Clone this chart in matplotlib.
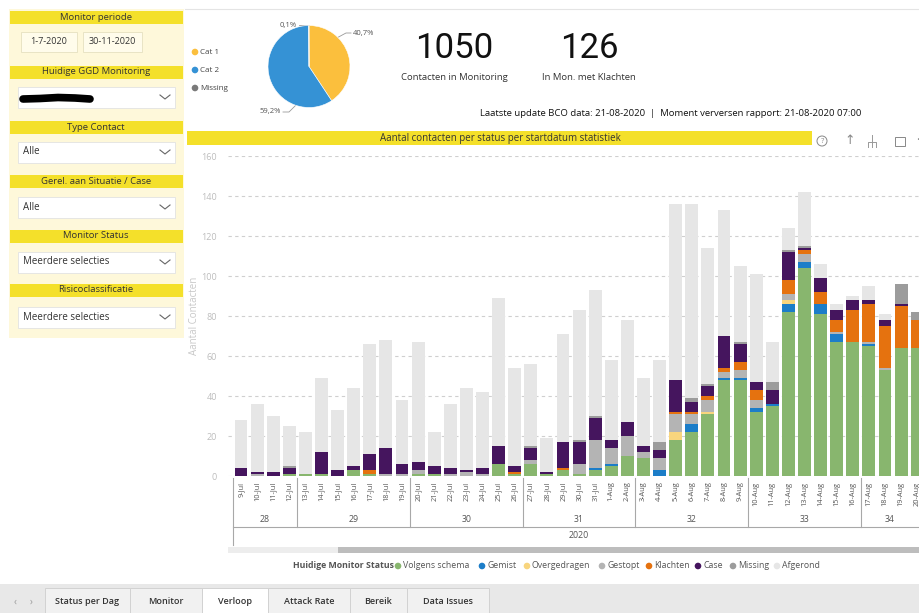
import matplotlib
matplotlib.use("Agg")
import matplotlib.pyplot as plt
from matplotlib.patches import Rectangle, Circle
from matplotlib.transforms import blended_transform_factory

plt.rcParams["font.family"] = ["Open Sans", "DejaVu Sans"]

# --- data ---
dates = ["9-Jul", "10-Jul", "11-Jul", "12-Jul", "13-Jul", "14-Jul", "15-Jul", "16-Jul",
         "17-Jul", "18-Jul", "19-Jul", "20-Jul", "21-Jul", "22-Jul", "23-Jul", "24-Jul",
         "25-Jul", "26-Jul", "27-Jul", "28-Jul", "29-Jul", "30-Jul", "31-Jul", "1-Aug",
         "2-Aug", "3-Aug", "4-Aug", "5-Aug", "6-Aug", "7-Aug", "8-Aug", "9-Aug",
         "10-Aug", "11-Aug", "12-Aug", "13-Aug", "14-Aug", "15-Aug", "16-Aug", "17-Aug",
         "18-Aug", "19-Aug", "20-Aug"]
weeks = ["28", "29", "30", "31", "32", "33", "34"]
week_starts = [0, 4, 11, 18, 25, 32, 39]

volgens_schema = [0, 0, 0, 1, 1, 1, 0, 3, 1, 0, 0, 1, 1, 0, 0, 0, 6, 1, 6, 1, 3, 1, 3, 5,
                  10, 9, 0, 18, 22, 31, 48, 48, 32, 35, 82, 104, 81, 67, 67, 65, 53, 64, 64]
gemist = [0, 0, 0, 0, 0, 0, 0, 0, 0, 0, 0, 0, 0, 0, 0, 0, 0, 0, 0, 0, 0, 0, 1, 1,
          0, 0, 3, 0, 4, 0, 1, 1, 2, 1, 4, 3, 5, 4, 0, 1, 0, 0, 0]
overgedragen = [0, 0, 0, 0, 0, 0, 0, 0, 0, 0, 0, 0, 0, 0, 0, 0, 0, 0, 0, 0, 0, 0, 0, 0,
                0, 0, 0, 4, 0, 1, 0, 0, 0, 0, 2, 0, 0, 0, 0, 0, 0, 0, 0]
gestopt = [0, 1, 0, 0, 0, 0, 0, 0, 0, 1, 1, 2, 0, 1, 2, 1, 0, 0, 2, 0, 0, 5, 14, 8,
           10, 3, 6, 9, 5, 6, 3, 4, 4, 0, 3, 4, 0, 1, 0, 1, 1, 0, 0]
klachten = [0, 0, 0, 0, 0, 0, 0, 0, 2, 0, 0, 0, 0, 0, 0, 0, 0, 1, 0, 0, 1, 0, 0, 0,
            0, 0, 0, 1, 1, 2, 2, 4, 5, 0, 7, 2, 6, 6, 16, 19, 21, 21, 14]
case = [4, 1, 2, 3, 0, 11, 3, 2, 8, 13, 5, 4, 4, 3, 1, 3, 9, 3, 6, 1, 13, 11, 11, 4,
        7, 3, 4, 16, 5, 5, 16, 9, 4, 7, 14, 1, 7, 5, 5, 2, 3, 1, 0]
missing = [0, 0, 0, 1, 0, 0, 0, 0, 0, 0, 0, 0, 0, 0, 0, 0, 0, 0, 1, 0, 0, 1, 1, 0,
           0, 0, 4, 0, 2, 1, 0, 1, 0, 4, 1, 1, 0, 0, 0, 0, 0, 10, 4]
afgerond = [24, 34, 28, 20, 21, 37, 30, 39, 55, 54, 32, 60, 17, 32, 41, 38, 74, 49, 41, 17,
            54, 65, 63, 40, 51, 34, 41, 88, 97, 68, 63, 38, 54, 20, 11, 27, 7, 3, 2, 7, 3, 0, 0]

statuses = ["Volgens schema", "Gemist", "Overgedragen", "Gestopt", "Klachten", "Case",
            "Missing", "Afgerond"]
series = [volgens_schema, gemist, overgedragen, gestopt, klachten, case, missing, afgerond]
colors = ["#88B66E", "#1C7DC8", "#F8D57E", "#B4B4B4", "#E5720F", "#45155E", "#9C9C9C",
          "#E6E6E6"]

pie_labels = ["Cat 1", "Cat 2", "Missing"]
pie_values = [40.7, 59.2, 0.1]
pie_colors = ["#FBBF3D", "#3592D5", "#7A7A7A"]

tabs = ["Status per Dag", "Monitor", "Verloop", "Attack Rate", "Bereik", "Data Issues"]
tab_edges = [45, 130, 202, 268, 350, 407, 489]

W, H = 919, 613
fig = plt.figure(figsize=(W / 100, H / 100), dpi=100, facecolor="white")
bg = fig.add_axes([0, 0, 1, 1])
bg.set_xlim(0, W)
bg.set_ylim(H, 0)
bg.axis("off")


def box(x0, y0, x1, y1, **kw):
    bg.add_patch(Rectangle((x0, y0), x1 - x0, y1 - y0, **kw))


YEL = "#F4E02A"
DARK = "#333333"

# --- left filter panel ---
box(9, 9, 184, 338, fc="#FEF8DA", ec="none")
panel = [(17, "Monitor periode"), (72, "Huidige GGD Monitoring"), (127, "Type Contact"),
         (181, "Gerel. aan Situatie / Case"), (236, "Monitor Status"), (290, "Risicoclassificatie")]
for yc, t in panel:
    box(10, yc - 6.5, 183, yc + 6.5, fc=YEL, ec="none")
    bg.text(96, yc, t, ha="center", va="center", fontsize=6.8, color=DARK)

box(21, 32, 77, 52, fc="#FFFCEB", ec="#E6E0C0", lw=0.6)
box(83, 32, 142, 52, fc="#FFFCEB", ec="#E6E0C0", lw=0.6)
bg.text(49, 42, "1-7-2020", ha="center", va="center", fontsize=6.5, color=DARK)
bg.text(112.5, 42, "30-11-2020", ha="center", va="center", fontsize=6.5, color=DARK)

drops = [(97, None), (152, "Alle"), (207, "Alle"), (262, "Meerdere selecties"),
         (317, "Meerdere selecties")]
for yc, t in drops:
    box(18, yc - 10.5, 175, yc + 10.5, fc="white", ec="#E2E2E2", lw=0.6)
    bg.plot([160, 165, 170], [yc - 2, yc + 2, yc - 2], color="#666666", lw=0.8)
    if t:
        bg.text(23, yc, t, ha="left", va="center", fontsize=7, color=DARK)
# redacted value
bg.plot([23, 40, 58, 75, 90], [99, 98.5, 97.5, 98, 99], color="black", lw=5.5,
        solid_capstyle="round")

# --- top area ---
bg.plot([185, W], [9, 9], color="#E4E4E4", lw=0.8)
ax_pie = fig.add_axes([268 / W, 1 - 108 / H, 82 / W, 83 / H])
ax_pie.pie(pie_values, colors=pie_colors, startangle=90, counterclock=False,
           wedgeprops=dict(linewidth=0.4, edgecolor="white"))
ax_pie.set_xlim(-1, 1)
ax_pie.set_ylim(-1, 1)
ax_pie.set_aspect("equal")

for yc, lab, col in zip([52, 70, 88], pie_labels, pie_colors):
    bg.add_patch(Circle((195, yc), 3.3, fc=col, ec="none"))
    bg.text(200, yc, lab, ha="left", va="center", fontsize=5.8, color="#444444")

bg.plot([333, 346, 351], [40, 33, 33], color="#999999", lw=0.6)
bg.text(353, 33, "40,7%", ha="left", va="center", fontsize=5.5, color="#555555")
bg.plot([283, 289, 296], [112, 112, 105], color="#999999", lw=0.6)
bg.text(281, 112, "59,2%", ha="right", va="center", fontsize=5.5, color="#555555")
bg.plot([299, 306, 309], [25, 25, 25], color="#999999", lw=0.6)
bg.text(297, 25, "0,1%", ha="right", va="center", fontsize=5.5, color="#555555")

bignum = dict(ha="center", va="center", fontsize=25, color="#111111",
              family=["Roboto", "DejaVu Sans"])
bg.text(454, 49, "1050", **bignum)
bg.text(589, 49, "126", **bignum)
bg.text(454, 77, "Contacten in Monitoring", ha="center", va="center", fontsize=6.8, color=DARK)
bg.text(589, 77, "In Mon. met Klachten", ha="center", va="center", fontsize=6.8, color=DARK)
bg.text(861, 113, "Laatste update BCO data: 21-08-2020  |  Moment verversen rapport: 21-08-2020 07:00",
        ha="right", va="center", fontsize=6.8, color="#111111")

# chart title bar and icons
box(187, 131, 812, 145, fc=YEL, ec="none")
bg.text(500, 138, "Aantal contacten per status per startdatum statistiek", ha="center",
        va="center", fontsize=7, color=DARK)
bg.add_patch(Circle((822, 141), 5, fc="none", ec="#888888", lw=0.7))
bg.text(822, 141.5, "?", ha="center", va="center", fontsize=5.5, color="#888888")
bg.text(850, 141, "↑", ha="center", va="center", fontsize=9, color="#888888")
bg.plot([872, 872], [135, 147], color="#999999", lw=0.7)
bg.plot([868, 868, 876, 876], [147, 142, 142, 147], color="#999999", lw=0.7)
box(895, 137, 905, 146, fc="none", ec="#888888", lw=0.7)
bg.text(918, 141, "·", ha="center", va="center", fontsize=9, color="#888888")

# --- stacked bars ---
ax = fig.add_axes([228 / W, 1 - 476 / H, (W - 228) / W, 320 / H])
x = list(range(len(dates)))
bottom = [0] * len(dates)
for vals, col in zip(series, colors):
    ax.bar(x, vals, bottom=bottom, width=0.8, color=col, linewidth=0)
    bottom = [b + v for b, v in zip(bottom, vals)]

ax.set_xlim((228 - 241) / 16.1, (W - 241) / 16.1)
ax.set_ylim(0, 160)
ax.set_yticks(range(0, 161, 20))
ax.yaxis.grid(True, linestyle=(0, (3, 3)), color="#CFCFCF", linewidth=0.8)
ax.set_axisbelow(True)
ax.set_xticks(x)
ax.set_xticklabels(dates, rotation=90, fontsize=5.3, color="#555555")
ax.tick_params(axis="x", length=0, pad=4)
ax.tick_params(axis="y", length=0, pad=8, labelsize=6.5, labelcolor="#BDBDBD")
ax.set_ylabel("Aantal Contacten", fontsize=7, color="#C8C8C8", labelpad=0.5)
for s in ax.spines.values():
    s.set_visible(False)
ax.patch.set_alpha(0)

# week / year hierarchy under the dates
tr = blended_transform_factory(ax.transData, bg.transData)
bg.plot([-0.5, -0.5], [478, 545], color="#A8A8A8", lw=0.8, transform=tr)
for ws in week_starts[1:]:
    bg.plot([ws - 0.5, ws - 0.5], [478, 527], color="#A8A8A8", lw=0.8, transform=tr)
bg.plot([-0.5, 44], [527, 527], color="#A8A8A8", lw=0.8, transform=tr)
ends = week_starts[1:] + [42.1 + 0.5]
for wk, s0, s1 in zip(weeks, week_starts, ends):
    bg.text((s0 - 0.5 + s1 - 0.5) / 2, 519, wk, ha="center", va="center", fontsize=6.3,
            color="#555555", transform=tr)
bg.text(21, 535, "2020", ha="center", va="center", fontsize=6.3, color="#555555", transform=tr)

# scrollbar
box(228, 547, W, 553, fc="#EDEDED", ec="none")
box(338, 547, W, 553, fc="#BDBDBD", ec="none")

# legend
bg.text(293, 566, "Huidige Monitor Status", ha="left", va="center", fontsize=6.3,
        color="#555555", fontweight="bold")
leg_x = [398, 482, 527, 602, 649, 698, 733, 777]
for lx, lab, col in zip(leg_x, statuses, colors):
    bg.add_patch(Circle((lx, 566), 3.3, fc=col, ec="none"))
    bg.text(lx + 5, 566, lab, ha="left", va="center", fontsize=6.3, color="#555555")

# report tabs
box(0, 584, W, H, fc="#E8E8E8", ec="none")
bg.text(15, 602, "‹", ha="center", va="center", fontsize=7, color="#999999")
bg.text(31, 602, "›", ha="center", va="center", fontsize=7, color="#999999")
for name, x0, x1 in zip(tabs, tab_edges[:-1], tab_edges[1:]):
    fc = "white" if name == "Verloop" else "#F1F1F1"
    box(x0, 588, x1, H + 2, fc=fc, ec="#D2D2D2", lw=0.7)
    bg.text((x0 + x1) / 2, 602, name, ha="center", va="center", fontsize=6.5,
            color="#333333", fontweight="semibold")

fig.savefig("out.png", dpi=100)
